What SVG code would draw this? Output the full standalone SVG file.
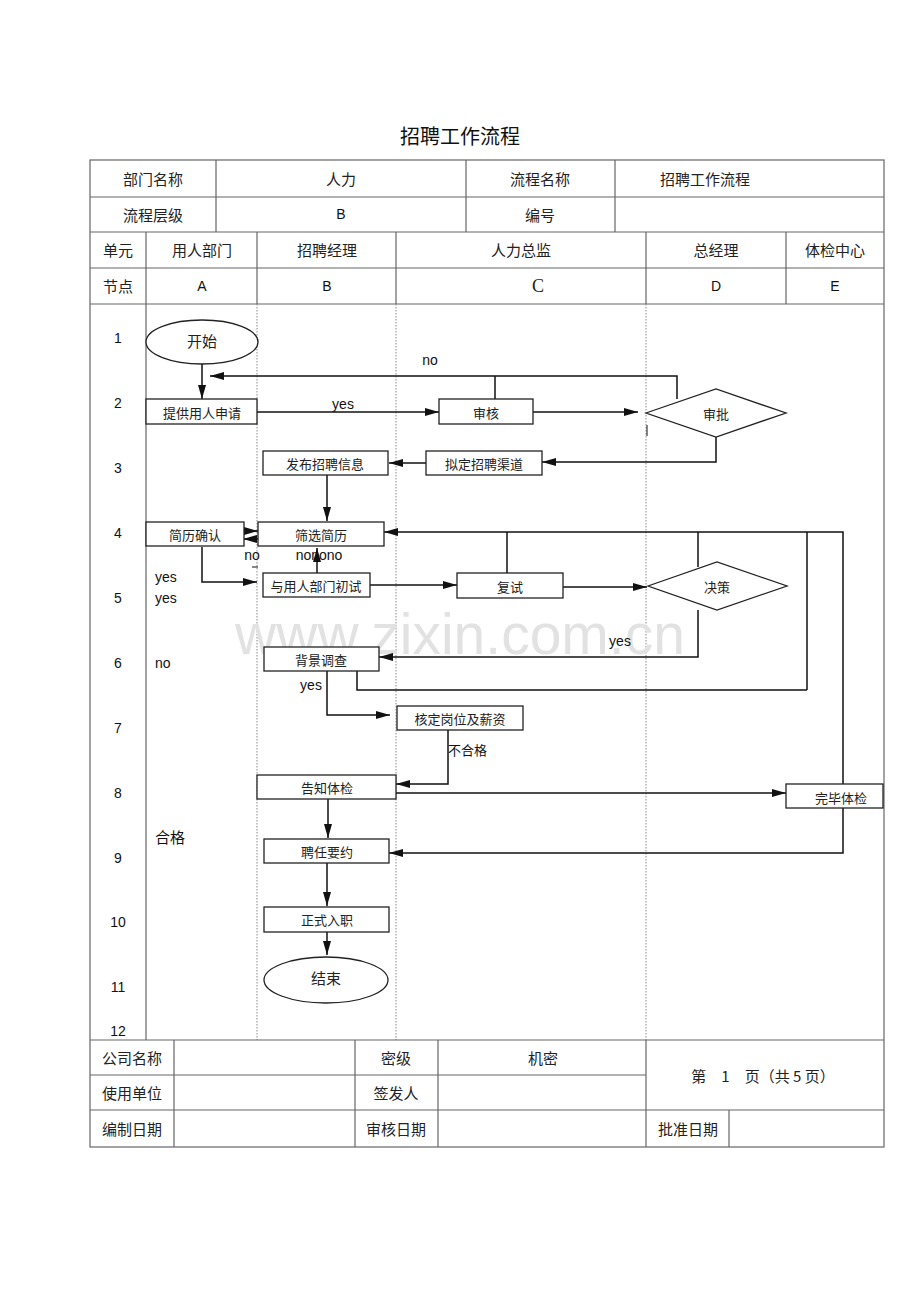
<svg xmlns="http://www.w3.org/2000/svg" width="920" height="1302" viewBox="0 0 920 1302">
<style>
.t{font-family:"Noto Sans CJK SC","Liberation Sans",sans-serif;font-size:15px;fill:#222;text-anchor:middle;dominant-baseline:central}
.n{font-family:"Noto Sans CJK SC","Liberation Sans",sans-serif;font-size:13px;fill:#222;text-anchor:middle;dominant-baseline:central}
.l{font-family:"Liberation Sans","Noto Sans CJK SC",sans-serif;font-size:14px;fill:#111;dominant-baseline:central}
.g{stroke:#666;stroke-width:1.2;fill:none}
.d{stroke:#888;stroke-width:1;stroke-dasharray:1.5,1.5;fill:none}
.b{fill:#fff;stroke:#222;stroke-width:1.3}
.c{stroke:#111;stroke-width:1.5;fill:none}
.ca{stroke:#111;stroke-width:1.5;fill:none;marker-end:url(#ah)}
</style>
<defs>
<marker id="ah" markerUnits="userSpaceOnUse" markerWidth="14" markerHeight="8" refX="14" refY="4" orient="auto">
<path d="M0,0 L14,4 L0,8 Z" fill="#111"/>
</marker>
</defs>
<rect width="920" height="1302" fill="#fff"/>
<text x="460" y="135" style="font-family:'Noto Sans CJK SC',sans-serif;font-size:20px;fill:#111;text-anchor:middle;dominant-baseline:central">招聘工作流程</text>

<g id="table">
<rect x="90" y="160" width="794" height="987" class="g"/>
<line x1="90" y1="197" x2="884" y2="197" class="g"/>
<line x1="90" y1="232" x2="884" y2="232" class="g"/>
<line x1="90" y1="268" x2="884" y2="268" class="g"/>
<line x1="90" y1="304" x2="884" y2="304" class="g"/>
<line x1="216" y1="160" x2="216" y2="232" class="g"/>
<line x1="466" y1="160" x2="466" y2="232" class="g"/>
<line x1="615" y1="160" x2="615" y2="232" class="g"/>
<line x1="146" y1="232" x2="146" y2="1040" class="g"/>
<line x1="257" y1="232" x2="257" y2="304" class="g"/>
<line x1="396" y1="232" x2="396" y2="304" class="g"/>
<line x1="646" y1="232" x2="646" y2="304" class="g"/>
<line x1="786" y1="232" x2="786" y2="304" class="g"/>
<line x1="257" y1="304" x2="257" y2="1040" class="d"/>
<line x1="396" y1="304" x2="396" y2="1040" class="d"/>
<line x1="646" y1="304" x2="646" y2="1040" class="d"/>
<line x1="90" y1="1040" x2="884" y2="1040" class="g"/>
<line x1="90" y1="1075" x2="646" y2="1075" class="g"/>
<line x1="90" y1="1110" x2="884" y2="1110" class="g"/>
<line x1="174" y1="1040" x2="174" y2="1147" class="g"/>
<line x1="355" y1="1040" x2="355" y2="1147" class="g"/>
<line x1="438" y1="1040" x2="438" y2="1147" class="g"/>
<line x1="646" y1="1040" x2="646" y2="1147" class="g"/>
<line x1="729" y1="1110" x2="729" y2="1147" class="g"/>

<text x="153" y="178" class="t">部门名称</text>
<text x="341" y="178" class="t">人力</text>
<text x="540" y="178" class="t">流程名称</text>
<text x="705" y="178" class="t">招聘工作流程</text>
<text x="153" y="214" class="t">流程层级</text>
<text x="341" y="214" class="l" style="text-anchor:middle">B</text>
<text x="540" y="214" class="t">编号</text>
<text x="118" y="249" class="t">单元</text>
<text x="202" y="249" class="t">用人部门</text>
<text x="327" y="249" class="t">招聘经理</text>
<text x="521" y="249" class="t">人力总监</text>
<text x="716" y="249" class="t">总经理</text>
<text x="835" y="249" class="t">体检中心</text>
<text x="118" y="285" class="t">节点</text>
<text x="202" y="286" class="l" style="text-anchor:middle">A</text>
<text x="327" y="286" class="l" style="text-anchor:middle">B</text>
<text x="538" y="286" style="font-family:'Liberation Serif',serif;font-size:18px;fill:#222;text-anchor:middle;dominant-baseline:central">C</text>
<text x="716" y="286" class="l" style="text-anchor:middle">D</text>
<text x="835" y="286" class="l" style="text-anchor:middle">E</text>

<text x="132" y="1057" class="t">公司名称</text>
<text x="396" y="1057" class="t">密级</text>
<text x="543" y="1057" class="t">机密</text>
<text x="763" y="1075" class="t">第　1　页（共 5 页）</text>
<text x="132" y="1092" class="t">使用单位</text>
<text x="396" y="1092" class="t">签发人</text>
<text x="132" y="1128" class="t">编制日期</text>
<text x="396" y="1128" class="t">审核日期</text>
<text x="688" y="1128" class="t">批准日期</text>
</g>

<g id="rownums" class="l" style="text-anchor:middle">
<text x="118" y="338">1</text>
<text x="118" y="403">2</text>
<text x="118" y="468">3</text>
<text x="118" y="533">4</text>
<text x="118" y="598">5</text>
<text x="118" y="663">6</text>
<text x="118" y="728">7</text>
<text x="118" y="793">8</text>
<text x="118" y="858">9</text>
<text x="118" y="922">10</text>
<text x="118" y="987">11</text>
<text x="118" y="1031">12</text>
</g>

<text x="460" y="634" style="font-family:'Liberation Sans',sans-serif;font-size:57px;fill:#e2e2e2;text-anchor:middle;dominant-baseline:central">www.zixin.com.cn</text>

<g id="connectors">
<line x1="202" y1="364" x2="202" y2="399" class="ca"/>
<line x1="257" y1="412" x2="439" y2="412" class="ca"/>
<line x1="533" y1="412" x2="638" y2="412" class="ca"/>
<polyline points="677,399 677,376 210,376" class="ca"/>
<line x1="495" y1="376" x2="495" y2="399" class="c"/>
<line x1="647" y1="425" x2="647" y2="436" class="c" style="stroke-width:1"/>
<polyline points="716,437 716,462 542,462" class="ca"/>
<line x1="426" y1="463" x2="389" y2="463" class="ca"/>
<line x1="327" y1="475" x2="327" y2="521" class="ca"/>
<line x1="243" y1="531" x2="258" y2="531" class="ca"/>
<line x1="258" y1="539" x2="243" y2="539" class="ca"/>
<polyline points="843,790 843,532 384,532" class="ca"/>
<line x1="507" y1="532" x2="507" y2="573" class="c"/>
<line x1="698" y1="532" x2="698" y2="567" class="c"/>
<line x1="807" y1="532" x2="807" y2="690" class="c"/>
<polyline points="202,547 202,582 257,582" class="ca"/>
<line x1="317" y1="573" x2="317" y2="548" class="ca"/>
<line x1="252" y1="567" x2="258" y2="567" class="c" style="stroke-width:1"/>
<line x1="370" y1="585" x2="457" y2="585" class="ca"/>
<line x1="563" y1="587" x2="647" y2="587" class="ca"/>
<polyline points="698,610 698,657 379,657" class="ca"/>
<polyline points="357,671 357,690 807,690" class="c"/>
<polyline points="327,671 327,715 390,715" class="ca"/>
<polyline points="448,730 448,784 396,784" class="ca"/>
<line x1="396" y1="793" x2="786" y2="793" class="ca"/>
<polyline points="843,808 843,853 389,853" class="ca"/>
<line x1="328" y1="799" x2="328" y2="838" class="ca"/>
<line x1="327" y1="863" x2="327" y2="906" class="ca"/>
<line x1="327" y1="932" x2="327" y2="955" class="ca"/>
</g>

<g id="labels" class="l">
<text x="430" y="360" style="text-anchor:middle">no</text>
<text x="343" y="404" style="text-anchor:middle">yes</text>
<text x="252" y="555" style="text-anchor:middle">no</text>
<text x="319" y="555" style="text-anchor:middle">nonono</text>
<text x="155" y="577">yes</text>
<text x="155" y="598">yes</text>
<text x="155" y="663">no</text>
<text x="620" y="641" style="text-anchor:middle">yes</text>
<text x="311" y="685" style="text-anchor:middle">yes</text>
<text x="448" y="749" style="font-family:'Noto Sans CJK SC',sans-serif;font-size:13px">不合格</text>
<text x="155" y="836" style="font-family:'Noto Sans CJK SC',sans-serif;font-size:15px">合格</text>
</g>

<g id="n_start"><ellipse cx="202" cy="342" rx="56" ry="22" class="b"/><text x="202" y="340" class="t">开始</text></g>
<g id="n_apply"><rect x="146" y="399" width="111" height="25" class="b"/><text x="202" y="412" class="n">提供用人申请</text></g>
<g id="n_review"><rect x="439" y="399" width="94" height="25" class="b"/><text x="486" y="412" class="n">审核</text></g>
<g id="n_approve"><polygon points="646,413 716,389 786,413 716,437" class="b"/><text x="716" y="413" class="n">审批</text></g>
<g id="n_channel"><rect x="426" y="451" width="116" height="24" class="b"/><text x="484" y="463" class="n">拟定招聘渠道</text></g>
<g id="n_publish"><rect x="263" y="451" width="125" height="24" class="b"/><text x="325" y="463" class="n">发布招聘信息</text></g>
<g id="n_confirm"><rect x="146" y="522" width="98" height="24" class="b"/><text x="195" y="534" class="n">简历确认</text></g>
<g id="n_screen"><rect x="258" y="522" width="126" height="24" class="b"/><text x="321" y="534" class="n">筛选简历</text></g>
<g id="n_first"><rect x="263" y="573" width="107" height="24" class="b"/><text x="316" y="585" class="n">与用人部门初试</text></g>
<g id="n_second"><rect x="457" y="573" width="106" height="25" class="b"/><text x="510" y="586" class="n">复试</text></g>
<g id="n_decide"><polygon points="648,586 717,562 787,586 717,610" class="b"/><text x="717" y="586" class="n">决策</text></g>
<g id="n_bg"><rect x="264" y="647" width="115" height="24" class="b"/><text x="321" y="659" class="n">背景调查</text></g>
<g id="n_salary"><rect x="397" y="706" width="126" height="24" class="b"/><text x="460" y="718" class="n">核定岗位及薪资</text></g>
<g id="n_notify"><rect x="257" y="775" width="139" height="24" class="b"/><text x="327" y="787" class="n">告知体检</text></g>
<g id="n_exam"><rect x="786" y="784" width="97" height="24" class="b"/><text x="841" y="797" class="n">完毕体检</text></g>
<g id="n_offer"><rect x="264" y="839" width="125" height="24" class="b"/><text x="327" y="851" class="n">聘任要约</text></g>
<g id="n_onboard"><rect x="264" y="907" width="125" height="25" class="b"/><text x="327" y="919" class="n">正式入职</text></g>
<g id="n_end"><ellipse cx="326" cy="980" rx="62" ry="23" class="b"/><text x="326" y="977" class="t">结束</text></g>
</svg>
